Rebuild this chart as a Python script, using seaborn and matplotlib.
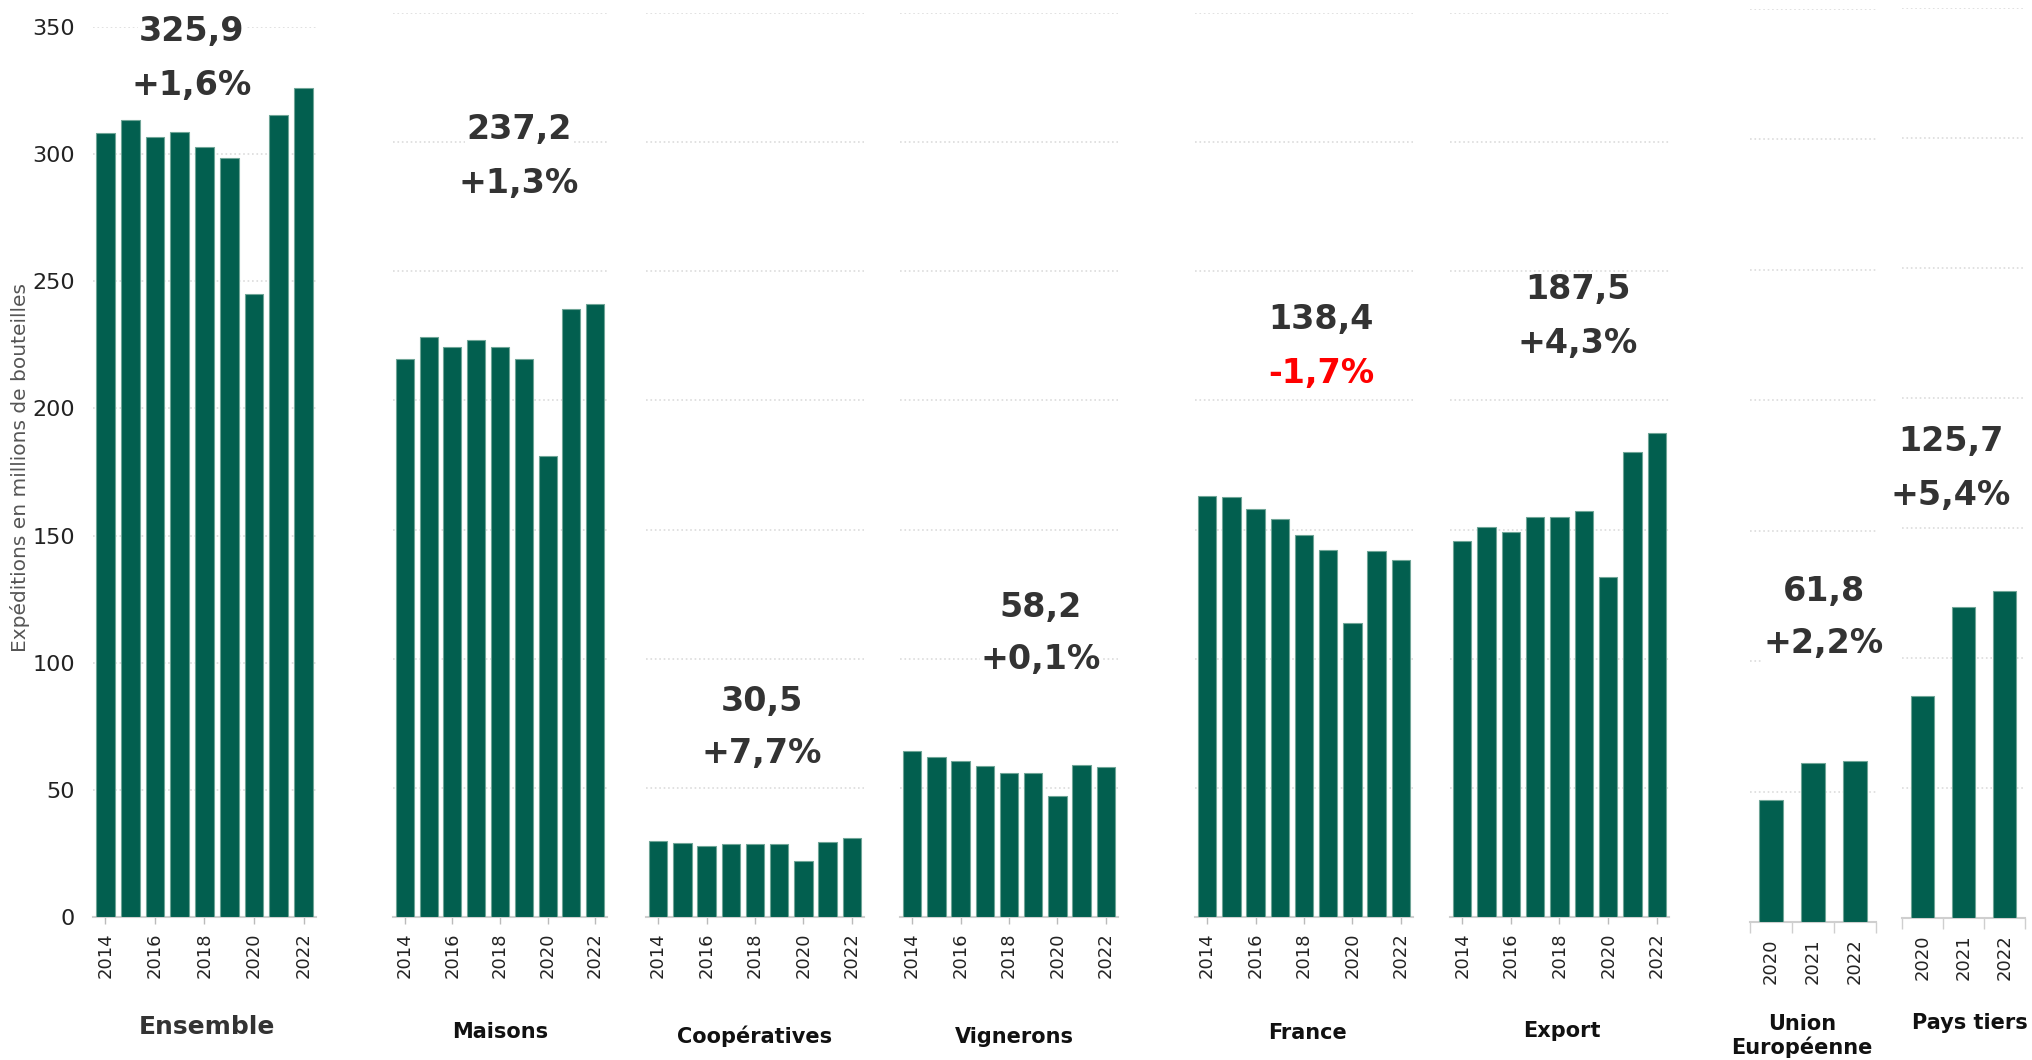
import matplotlib
matplotlib.use('Agg')
import matplotlib.pyplot as plt
import seaborn as sns

sns.set_theme(style='white')
plt.rcParams['font.family'] = ['DejaVu Sans']

# shipments in millions of bottles
years_all = ['2014', '2015', '2016', '2017', '2018', '2019', '2020', '2021', '2022']
years_recent = ['2020', '2021', '2022']

ensemble = [308.2, 313.3, 306.6, 308.7, 303.0, 298.5, 244.9, 315.3, 325.9]
maisons = [216.0, 224.5, 220.5, 223.5, 220.5, 216.0, 178.3, 235.5, 237.2]
cooperatives = [29.6, 28.6, 27.6, 28.1, 28.1, 28.1, 21.6, 29.1, 30.5]
vignerons = [64.3, 61.8, 60.3, 58.3, 55.8, 55.8, 46.7, 58.8, 58.2]
france = [163.0, 162.8, 158.0, 154.0, 148.0, 142.0, 114.0, 141.7, 138.4]
export = [145.7, 151.0, 149.0, 154.8, 155.0, 157.0, 131.7, 180.0, 187.5]
union_europeenne = [46.7, 61.1, 61.8]
pays_tiers = [85.2, 119.6, 125.7]

panel_names = ['Ensemble', 'Maisons', 'Coopératives', 'Vignerons', 'France',
               'Export', 'Union\nEuropéenne', 'Pays tiers']
totals_2022 = ['325,9', '237,2', '30,5', '58,2', '138,4', '187,5', '61,8', '125,7']
changes = ['+1,6%', '+1,3%', '+7,7%', '+0,1%', '-1,7%', '+4,3%', '+2,2%', '+5,4%']

series = [ensemble, maisons, cooperatives, vignerons, france, export,
          union_europeenne, pays_tiers]

W, H = 2033, 1060
GREEN = '#025f4f'

# panel boxes in pixels: left, right, top gridline (350), baseline
boxes = [(93, 316, 27, 917), (393, 607, 13, 917), (646, 864, 13, 917),
         (900, 1118, 13, 917), (1195, 1413, 13, 917), (1450, 1669, 13, 917),
         (1750, 1876, 9, 922), (1902, 2025, 8, 918)]
# label positions (center x, center y of first line) and titles
label_pos = [(192, 32), (519, 130), (762, 701), (1041, 607),
             (1321, 320), (1578, 290), (1824, 591), (1951, 442)]
title_pos = [(207, 1027), (500, 1032), (755, 1036), (1014, 1037),
             (1308, 1033), (1562, 1031), (1802, 1036), (1970, 1023)]

fig = plt.figure(figsize=(W / 100, H / 100), dpi=100)

for i, vals in enumerate(series):
    x0, x1, yt, yb = boxes[i]
    ax = fig.add_axes([x0 / W, 1 - yb / H, (x1 - x0) / W, (yb - yt) / H])
    yrs = years_all if len(vals) == 9 else years_recent
    bw = 0.76 if len(vals) == 9 else 0.55
    sns.barplot(x=yrs, y=vals, ax=ax, color=GREEN, saturation=1, width=bw,
                edgecolor='#6fa597', linewidth=0.8, zorder=3)
    ax.set_ylim(0, 350)
    ax.set_xlim(-0.5, len(vals) - 0.5)
    ax.set_yticks(range(0, 351, 50))
    ax.grid(axis='y', color='#dcdcdc', linestyle=':', linewidth=1.2, zorder=0)
    ax.set_axisbelow(True)
    for s in ['top', 'right', 'left']:
        ax.spines[s].set_visible(False)
    ax.spines['bottom'].set_color('#cfcfcf')
    ax.spines['bottom'].set_linewidth(1.5)
    ax.set_xlabel('')
    ax.set_ylabel('')
    if len(vals) == 9:
        ax.set_xticks(range(0, 9, 2))
        ax.set_xticklabels(yrs[::2], rotation=90)
        ax.tick_params(axis='x', bottom=True, length=5, width=1, color='#bbbbbb',
                       pad=6, labelsize=13, labelcolor='#222222')
    else:
        ax.set_xticks(range(3))
        ax.set_xticklabels(yrs, rotation=90)
        ax.set_xticks([-0.5, 0.5, 1.5, 2.5], minor=True)
        ax.tick_params(axis='x', which='major', bottom=False, pad=6,
                       labelsize=13, labelcolor='#222222')
        ax.tick_params(axis='x', which='minor', bottom=True, length=8, width=1,
                       color='#cfcfcf')
    if i == 0:
        ax.tick_params(axis='y', left=False, labelsize=16, labelcolor='#222222', pad=7)
    else:
        ax.tick_params(axis='y', left=False, labelleft=False)

    lx, ly = label_pos[i]
    fig.text(lx / W, 1 - ly / H, totals_2022[i], ha='center', va='center',
             fontsize=24, fontweight='bold', color='#333333', zorder=5,
             bbox=dict(fc='white', ec='none', pad=1))
    chg_color = 'red' if changes[i].startswith('-') else '#333333'
    fig.text(lx / W, 1 - (ly + 53) / H, changes[i], ha='center', va='center',
             fontsize=24, fontweight='bold', color=chg_color, zorder=5,
             bbox=dict(fc='white', ec='none', pad=1))

    tx, ty = title_pos[i]
    fig.text(tx / W, 1 - ty / H, panel_names[i], ha='center', va='center',
             fontsize=18 if i == 0 else 15, fontweight='bold',
             color='#333333' if i == 0 else '#111111', linespacing=1.1)

fig.text(20 / W, 1 - 468 / H, 'Expéditions en millions de bouteilles',
         rotation=90, ha='center', va='center', fontsize=14.5, color='#555555')

fig.savefig('out.png', dpi=100, facecolor='white')
